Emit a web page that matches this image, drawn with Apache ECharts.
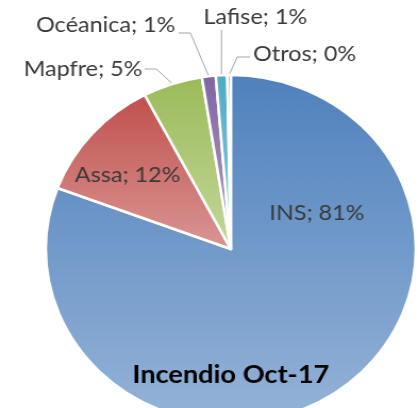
<!DOCTYPE html>
<html>
<head>
<meta charset="utf-8">
<script src="https://cdn.jsdelivr.net/npm/echarts@6/dist/echarts.min.js"></script>
<style>
  html, body { margin: 0; padding: 0; background: #fff; overflow: hidden; }
  #chart { width: 393px; height: 408px; transform: scaleX(1.0636); transform-origin: 0 0; }
</style>
</head>
<body>
<div id="chart"></div>
<script>
const categories = ['INS', 'Assa', 'Mapfre', 'Océanica', 'Lafise', 'Otros'];
const shares = [80.7, 11.6, 5.2, 1.2, 1.0, 0.3];
const chartTitle = 'Incendio Oct-17';

const topColors = ['#4F81BD', '#C0504D', '#9BBB59', '#8064A2', '#4BACC6', '#F79646'];
const bottomColors = ['#95B3D7', '#DA9694', '#C4D79B', '#B3A2C7', '#93CDDD', '#FAC090'];
const insideLabelCount = 2;

const data = categories.map((name, i) => ({
  name: name,
  value: shares[i],
  itemStyle: {
    color: new echarts.graphic.LinearGradient(0, 0, 0, 1, [
      { offset: 0, color: topColors[i] },
      { offset: 1, color: bottomColors[i] }
    ])
  },
  labelLine: { show: i >= insideLabelCount }
}));

const chart = echarts.init(document.getElementById('chart'));
chart.setOption({
  animation: false,
  title: {
    text: chartTitle,
    left: 212,
    top: 357,
    textAlign: 'center',
    textStyle: { fontFamily: 'Lato', fontWeight: 'bold', fontSize: 25.5, color: '#000' }
  },
  series: [{
    type: 'pie',
    center: [217, 249],
    radius: 174,
    startAngle: 90,
    clockwise: true,
    avoidLabelOverlap: false,
    percentPrecision: 0,
    silent: true,
    itemStyle: { borderColor: '#fff', borderWidth: 2.5 },
    label: {
      show: true,
      position: 'outside',
      formatter: '{b}; {d}%',
      fontFamily: 'Lato',
      fontSize: 22,
      color: '#3A3A3A'
    },
    labelLine: { show: true, lineStyle: { color: '#A6A6A6', width: 1 } },
    labelLayout: function (p) {
      const a = p.labelLinePoints ? p.labelLinePoints[0] : null;
      switch (p.dataIndex) {
        case 0: return { x: 298, y: 213, align: 'center', verticalAlign: 'middle' };
        case 1: return { x: 120, y: 175, align: 'center', verticalAlign: 'middle' };
        case 2: return { x: 134, y: 69, align: 'right', verticalAlign: 'middle',
                         labelLinePoints: [a, [147, 69], [136, 69]] };
        case 3: return { x: 165, y: 25, align: 'right', verticalAlign: 'middle',
                         labelLinePoints: [a, [179, 33], [168, 33]] };
        case 4: return { x: 240, y: 17, align: 'center', verticalAlign: 'middle',
                         labelLinePoints: [a, [a[0], 45], [a[0], 30]] };
        case 5: return { x: 238, y: 54, align: 'left', verticalAlign: 'middle',
                         labelLinePoints: [a, [223, 57], [235, 57]] };
      }
    },
    data: data
  }]
});
</script>
</body>
</html>
